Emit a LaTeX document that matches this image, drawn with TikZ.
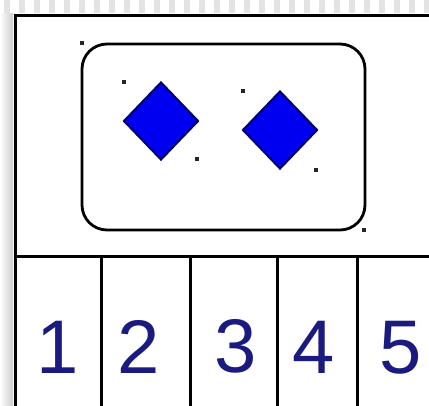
\documentclass[tikz,border=0pt]{standalone}
\usepackage{xcolor}
\usepackage{fontspec}
\setmainfont{Liberation Sans}
\usetikzlibrary{shapes.geometric, positioning}
\definecolor{numblue}{RGB}{26,26,128}
\definecolor{gemblue}{RGB}{0,0,240}
\tikzstyle{frame} = [rectangle, draw=black, line width=3.2pt, inner sep=0pt, anchor=north west]
\tikzstyle{tray} = [rectangle, rounded corners=25pt, draw=black, line width=2.8pt, minimum width=283pt, minimum height=186pt, inner sep=0pt]
\tikzstyle{gem} = [diamond, draw=black!60!blue, line width=2pt, fill=gemblue, minimum width=75pt, minimum height=78pt, inner sep=0pt]
\tikzstyle{digit} = [text=numblue, font=\fontsize{76}{76}\selectfont, anchor=base, inner sep=0pt]
\tikzstyle{handle} = [fill=black!85, rectangle, inner sep=0pt, minimum size=3.4pt]

\begin{document}
\begin{tikzpicture}[x=1pt, y=-1pt]
\useasboundingbox (0,0) rectangle (429,405);
\clip (0,0) rectangle (429,405);

% Background
\fill[white] (0,0) rectangle (429,405);
\foreach \x in {0,15,...,420}
  \fill[gray!22] (\x+4,0) rectangle (\x+10,13);
\shade[left color=white, right color=gray!40] (0,13) rectangle (13,405);

% Board
\node (board) [frame, minimum width=440pt, minimum height=241pt] at (14,14) {};
\node (cell1) [frame, minimum width=86pt, minimum height=170pt] at (14,255) {};
\node (cell2) [frame, minimum width=89pt, minimum height=170pt] at (100,255) {};
\node (cell3) [frame, minimum width=87pt, minimum height=170pt] at (189,255) {};
\node (cell4) [frame, minimum width=80pt, minimum height=170pt] at (276,255) {};
\node (cell5) [frame, minimum width=98pt, minimum height=170pt] at (356,255) {};

% Numbers
\node (num1) [digit] at (58,373) {1};
\node (num2) [digit] at (139,373) {2};
\node (num3) [digit] at (236,372) {3};
\node (num4) [digit] at (314,373) {4};
\node (num5) [digit] at (401,373) {5};

% Tray with two gems
\node (box) [tray] at (223.5,137) {};
\node (gem1) [gem] at (161,121) {};
\node (gem2) [gem] at (280,130) {};

% Selection handles
\node [handle] at (82,43) {};
\node [handle] at (364,230) {};
\node [handle] at (124,82) {};
\node [handle] at (197,159) {};
\node [handle] at (243,91) {};
\node [handle] at (316,170) {};

\end{tikzpicture}
\end{document}
